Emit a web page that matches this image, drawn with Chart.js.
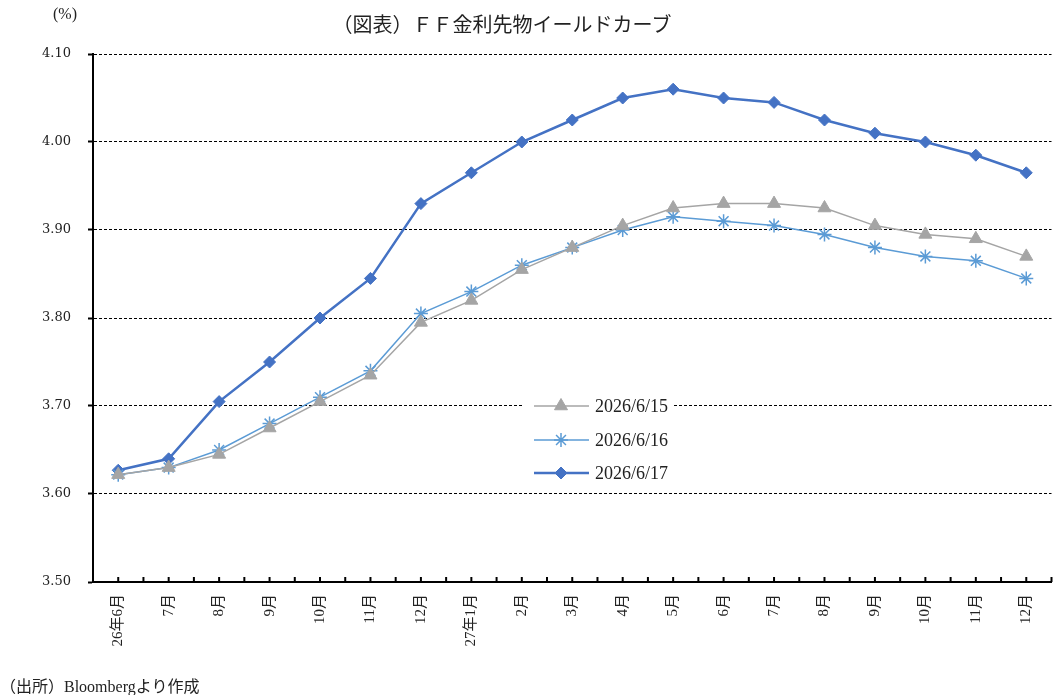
<!DOCTYPE html>
<html><head><meta charset="utf-8">
<script src="https://cdn.jsdelivr.net/npm/chart.js@4.4.1/dist/chart.umd.min.js"></script>
<style>
html,body{margin:0;padding:0;background:#fff;}
#wrap{position:relative;width:1060px;height:695px;}
canvas{position:absolute;left:0;top:0;}
.t{position:absolute;font-family:"Liberation Serif","Noto Sans CJK JP",serif;color:#222;white-space:nowrap;}
</style></head>
<body>
<div id="wrap">
<canvas id="c" width="1060" height="695"></canvas>
<div class="t" style="left:53px;top:5px;font-size:16px;">(%)</div>
<div class="t" style="left:0;width:1004px;text-align:center;top:9px;font-size:20px;">（図表）ＦＦ金利先物イールドカーブ</div>
<div class="t" style="left:0;top:673px;font-size:16px;">（出所）Bloombergより作成</div>
</div>
<script>
const categories = ["26年6月","7月","8月","9月","10月","11月","12月","27年1月","2月","3月","4月","5月","6月","7月","8月","9月","10月","11月","12月"];
const seriesNames = ["2026/6/15","2026/6/16","2026/6/17"];
const s0615 = [3.622,3.630,3.645,3.675,3.705,3.735,3.795,3.820,3.855,3.880,3.905,3.925,3.930,3.930,3.925,3.905,3.895,3.890,3.870];
const s0616 = [3.622,3.630,3.650,3.680,3.710,3.740,3.805,3.830,3.860,3.880,3.900,3.915,3.910,3.905,3.895,3.880,3.870,3.865,3.845];
const s0617 = [3.627,3.640,3.705,3.750,3.800,3.845,3.930,3.965,4.000,4.025,4.050,4.060,4.050,4.045,4.025,4.010,4.000,3.985,3.965];
const yTicks = [3.50,3.60,3.70,3.80,3.90,4.00,4.10];

const FONT = '"Liberation Serif","Noto Sans CJK JP",serif';

const extras = {
  id:'extras',
  afterDraw(chart){
    const ctx = chart.ctx, xs = chart.scales.x, ca = chart.chartArea;
    ctx.save();
    ctx.strokeStyle='#000'; ctx.lineWidth=2;
    const n = categories.length;
    const half = (xs.getPixelForValue(1)-xs.getPixelForValue(0))/2;
    for(let i=0;i<n;i++){
      const p = xs.getPixelForValue(i);
      [p, p+half].forEach(px=>{
        ctx.beginPath(); ctx.moveTo(px, ca.bottom); ctx.lineTo(px, ca.bottom-5); ctx.stroke();
      });
    }
    ctx.restore();
  },
  afterDatasetsDraw(chart){
    const ctx = chart.ctx;
    ctx.save();
    ctx.fillStyle='#fff';
    ctx.fillRect(524,392,150,94);
    const ys=[406,440,473];
    chart.data.datasets.forEach((ds,i)=>{
      const y=ys[i];
      ctx.setLineDash([]);
      ctx.strokeStyle=ds.borderColor; ctx.lineWidth=ds.borderWidth;
      ctx.beginPath(); ctx.moveTo(534,y); ctx.lineTo(589,y); ctx.stroke();
      ctx.fillStyle=ds.pointBackgroundColor; ctx.strokeStyle=ds.pointBorderColor; ctx.lineWidth=ds.pointBorderWidth||1;
      Chart.helpers.drawPoint(ctx,{pointStyle:ds.pointStyle,radius:ds.pointRadius,borderWidth:ds.pointBorderWidth||1,rotation:0},561,y);
      ctx.fillStyle='#222'; ctx.font='18px '+FONT; ctx.textBaseline='middle'; ctx.textAlign='left';
      ctx.fillText(ds.label,595,y+1);
    });
    ctx.restore();
  }
};

new Chart(document.getElementById('c'),{
  type:'line',
  data:{
    labels:categories,
    datasets:[
      {label:seriesNames[0],data:s0615,borderColor:'#A5A5A5',backgroundColor:'#A5A5A5',pointBackgroundColor:'#A5A5A5',pointBorderColor:'#A5A5A5',borderWidth:1.5,pointStyle:'triangle',pointRadius:7.5,pointBorderWidth:1,tension:0},
      {label:seriesNames[1],data:s0616,borderColor:'#5B9BD5',backgroundColor:'#5B9BD5',pointBackgroundColor:'#5B9BD5',pointBorderColor:'#5B9BD5',borderWidth:1.5,pointStyle:'star',pointRadius:7,pointBorderWidth:1.5,tension:0},
      {label:seriesNames[2],data:s0617,borderColor:'#4472C4',backgroundColor:'#4472C4',pointBackgroundColor:'#4472C4',pointBorderColor:'#4472C4',borderWidth:2.5,pointStyle:'rectRot',pointRadius:6,pointBorderWidth:1,tension:0}
    ]
  },
  options:{
    responsive:false,animation:false,
    layout:{padding:{left:0,top:54,right:5,bottom:0}},
    plugins:{legend:{display:false},title:{display:false},tooltip:{enabled:false}},
    scales:{
      x:{
        offset:true,
        afterFit(s){s.height=113;},
        grid:{display:false,drawTicks:false},
        border:{display:true,color:'#000',width:2},
        ticks:{minRotation:90,maxRotation:90,padding:12,color:'#222',font:{family:FONT,size:15},autoSkip:false}
      },
      y:{
        min:3.5,max:4.1,
        afterFit(s){s.width=93;},
        afterBuildTicks(s){s.ticks=yTicks.map(v=>({value:v}));},
        grid:{color:'#000',lineWidth:1,tickLength:5,tickColor:'#000',tickWidth:2,tickBorderDash:[]},
        border:{display:true,color:'#000',width:2,dash:[3,2]},
        ticks:{padding:17,color:'#222',font:{family:'"DejaVu Serif",serif',size:13},callback:v=>Number(v).toFixed(2)}
      }
    }
  },
  plugins:[extras]
});
</script>
</body></html>
